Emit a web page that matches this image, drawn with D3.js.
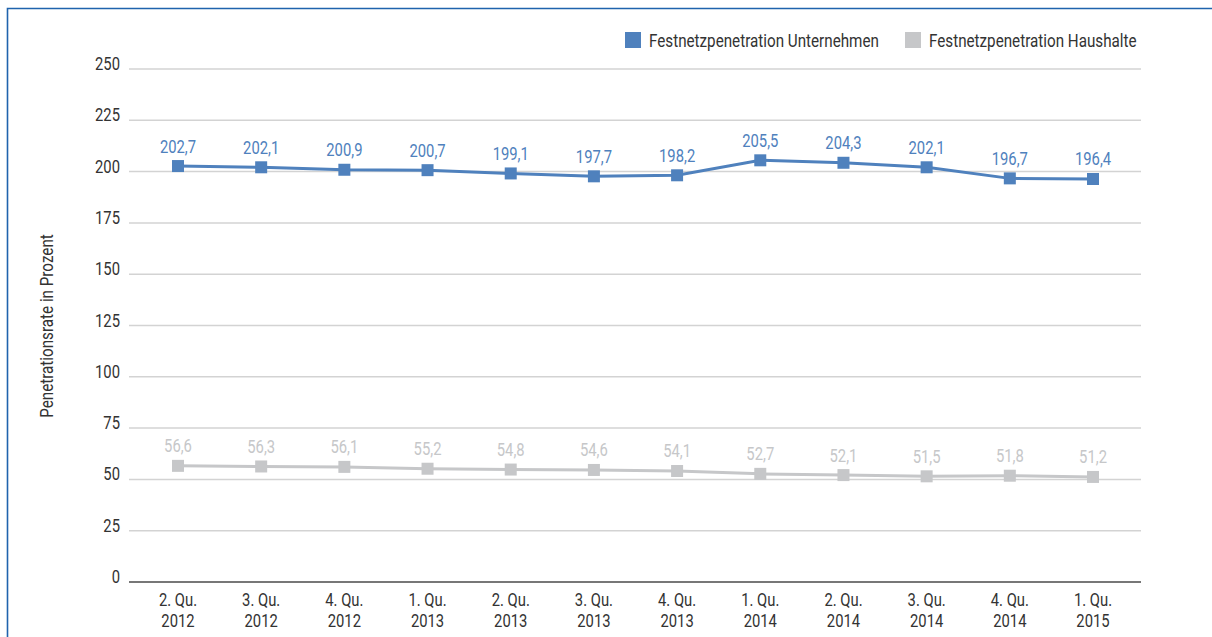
<!DOCTYPE html>
<html><head><meta charset="utf-8">
<script src="https://cdn.jsdelivr.net/npm/d3@7"></script>
<style>
body{margin:0;background:#fff;}
text{font-family:"Roboto","Liberation Sans","DejaVu Sans",sans-serif;font-weight:400;}
</style></head>
<body><svg id="chart" width="1212" height="637"></svg>
<script>
const categories = ["2. Qu.|2012","3. Qu.|2012","4. Qu.|2012","1. Qu.|2013","2. Qu.|2013","3. Qu.|2013","4. Qu.|2013","1. Qu.|2014","2. Qu.|2014","3. Qu.|2014","4. Qu.|2014","1. Qu.|2015"];
const unternehmen = [202.7,202.1,200.9,200.7,199.1,197.7,198.2,205.5,204.3,202.1,196.7,196.4];
const haushalte = [56.6,56.3,56.1,55.2,54.8,54.6,54.1,52.7,52.1,51.5,51.8,51.2];
const yTicks = [0,25,50,75,100,125,150,175,200,225,250];
const seriesNames = ["Festnetzpenetration Unternehmen","Festnetzpenetration Haushalte"];
const colors = ["#4f81bd","#c6c7c9"];

(function(){
const svg = d3.select("#chart");
const fmt = v => d3.format(".1f")(v).replace(".", ",");
const FS = 19;

// measure condensation factor from legend text width in reference (~230px)
const probe = svg.append("text").attr("font-size",FS).text(seriesNames[0]);
const SX = 230 / probe.node().getComputedTextLength();
probe.remove();

function label(g, x, y, txt, opts){
  opts = opts || {};
  return g.append("text")
    .attr("transform", `translate(${x},${y}) scale(${SX},1)`)
    .attr("text-anchor", opts.anchor || "start")
    .attr("font-size", opts.size || FS)
    .attr("fill", opts.fill || "#333")
    .text(txt);
}

// frame
svg.append("path").attr("d","M7.5,637 L7.5,8.5 L1212,8.5").attr("fill","none").attr("stroke","#1f63ad").attr("stroke-width",1.6);

const pLeft = 129, pRight = 1141, pTop = 69, pBottom = 582;
const x = d3.scaleBand().domain(categories).range([136.4,1134.6]);
const y = d3.scaleLinear().domain([0,250]).range([pBottom, pTop]);
const cx = d => x(d) + x.bandwidth()/2;

// grid
svg.append("g").selectAll("line").data(yTicks.filter(t=>t>0)).join("line")
  .attr("x1",pLeft).attr("x2",pRight).attr("y1",d=>y(d)).attr("y2",d=>y(d))
  .attr("stroke","#d3d3d3").attr("stroke-width",1.5);
svg.append("line").attr("x1",pLeft).attr("x2",pRight).attr("y1",y(0)).attr("y2",y(0))
  .attr("stroke","#4a4a4a").attr("stroke-width",1.5);

// y labels
const gy = svg.append("g");
yTicks.forEach(t => label(gy, 120, y(t)+1, t, {anchor:"end", size:18.5}));

// x labels
const gx = svg.append("g");
categories.forEach(c => {
  const parts = c.split("|");
  label(gx, cx(c), 606, parts[0], {anchor:"middle", size:18.5});
  label(gx, cx(c), 627, parts[1], {anchor:"middle", size:18.5});
});

// y title
svg.append("text").attr("transform","translate(53,326) rotate(-90) scale(" + SX + ",1)").attr("text-anchor","middle")
  .attr("font-size",19).attr("fill","#333").text("Penetrationsrate in Prozent");

// series
[unternehmen, haushalte].forEach((vals,i)=>{
  const data = categories.map((c,j)=>({c, v: vals[j]}));
  svg.append("path").datum(data).attr("fill","none").attr("stroke",colors[i]).attr("stroke-width",3)
    .attr("d", d3.line().x(d=>cx(d.c)).y(d=>y(d.v)));
  svg.append("g").selectAll("rect").data(data).join("rect")
    .attr("x",d=>cx(d.c)-6).attr("y",d=>y(d.v)-6).attr("width",12).attr("height",12).attr("fill",colors[i]);
  const gl = svg.append("g");
  data.forEach(d => label(gl, cx(d.c), y(d.v)-13.5, fmt(d.v), {anchor:"middle", size:18.5, fill:colors[i]}));
});

// legend
const legX = [625, 905];
const gLeg = svg.append("g");
seriesNames.forEach((n,i)=>{
  gLeg.append("rect").attr("x",legX[i]).attr("y",32).attr("width",16).attr("height",16).attr("fill",colors[i]);
  label(gLeg, legX[i]+24, 47, n, {size:FS});
});
})();
</script></body></html>
